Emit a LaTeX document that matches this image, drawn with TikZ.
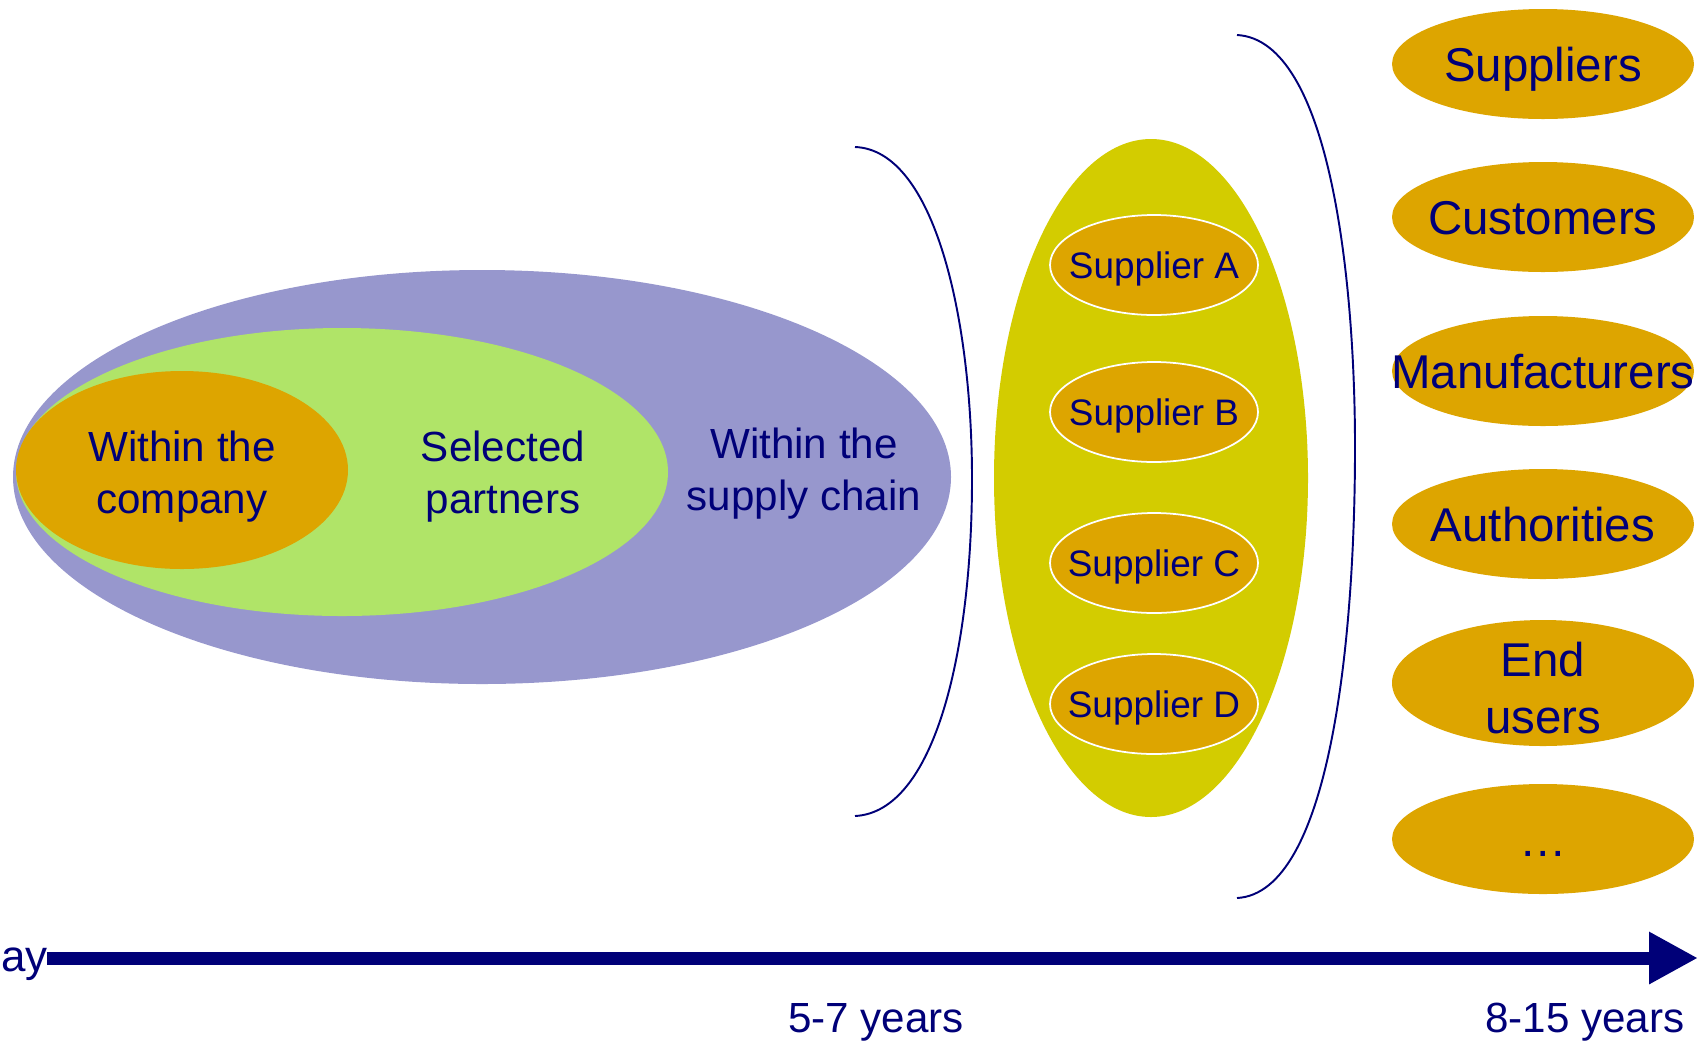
\documentclass[tikz,border=0pt]{standalone}
\usepackage{fontspec}
\setmainfont{Liberation Sans}
\usepackage{tikz}
\usetikzlibrary{shapes.geometric,arrows.meta}
\definecolor{navy}{HTML}{000078}
\definecolor{lilac}{HTML}{9797CD}
\definecolor{lime}{HTML}{B0E468}
\definecolor{gold}{HTML}{DDA500}
\definecolor{olive}{HTML}{D3CC00}

\tikzset{
  blob/.style={ellipse, inner sep=0pt},
  mid/.style={text=navy, align=center, yshift=-0.1cm, font=\fontsize{24}{29.5}\selectfont},
  big/.style={text=navy, align=center, yshift=-0.1cm, font=\fontsize{27}{32}\selectfont},
  one/.style={text=navy, text height=19.4pt, text depth=0pt, font=\fontsize{27}{32}\selectfont},
  small/.style={text=navy, yshift=-0.08cm, font=\fontsize{21}{25}\selectfont},
  supp/.style={blob, fill=gold, draw=white, line width=1pt, minimum width=208*0.02cm,
    minimum height=100*0.02cm},
  actor/.style={blob, fill=gold, minimum width=302*0.02cm, minimum height=110*0.02cm},
  brace/.style={draw=navy, line width=1.1pt},
}

\begin{document}
\begin{tikzpicture}[x=0.02cm, y=-0.02cm]
    \useasboundingbox (0,0) rectangle (1706,1042);

    % nested circles of the left part
    \node[blob, fill=lilac, minimum width=938*0.02cm, minimum height=414*0.02cm] (chain) at (482,477) {};
    \node[blob, fill=lime,  minimum width=652*0.02cm, minimum height=288*0.02cm] (partner) at (342,472) {};
    \node[blob, fill=gold,  minimum width=332*0.02cm, minimum height=198*0.02cm] (company) at (182,470) {};
    \node[mid] (Lcompany) at (182,472) {Within the\\company};
    \node[mid] (Lpartner) at (503,472) {Selected\\partners};
    \node[mid] (Lchain)   at (804,469) {Within the\\supply chain};

    % first bracket
    \draw[brace] (855,147) .. controls (935,150) and (972,320) .. (972,479)
                           .. controls (972,650) and (935,812) .. (855,816);

    % the suppliers
    \node[blob, fill=olive, minimum width=314*0.02cm, minimum height=678*0.02cm] (group) at (1151,478) {};
    \node[supp, label={[small]center:Supplier A}] (SA) at (1154,265) {};
    \node[supp, label={[small]center:Supplier B}] (SB) at (1154,412) {};
    \node[supp, label={[small]center:Supplier C}] (SC) at (1154,563) {};
    \node[supp, label={[small]center:Supplier D}] (SD) at (1154,704) {};

    % second bracket
    \draw[brace] (1237,35) .. controls (1330,40) and (1355,280) .. (1355,447)
                           .. controls (1355,640) and (1330,893) .. (1237,898);

    % all actors
    \node[actor, label={[one]center:Suppliers}] (A1) at (1543,64) {};
    \node[actor, label={[one]center:Customers}] (A2) at (1543,217) {};
    \node[actor, label={[one]center:Manufacturers}] (A3) at (1543,371) {};
    \node[actor, label={[one]center:Authorities}] (A4) at (1543,524) {};
    \node[actor, minimum height=126*0.02cm, label={[big]center:End\\users}] (A5) at (1543,683) {};
    \node[actor, label={[one]center:\dots}] (A6) at (1543,839) {};

    % time axis
    \node[big, yshift=0.1cm, anchor=base west, inner sep=0pt, font=\fontsize{25}{30}\selectfont] (today) at (1,971) {ay};
    \coordinate (start) at (47,958);
    \coordinate (tip) at (1698,958);
    \draw[navy, line width=7.4pt, -{Triangle[length=27.9pt, width=27.9pt]}] (start) -- (tip);
    \node[mid] (T1) at (876,1017) {5-7 years};
    \node[mid] (T2) at (1585,1017) {8-15 years};
  \end{tikzpicture}
\end{document}
